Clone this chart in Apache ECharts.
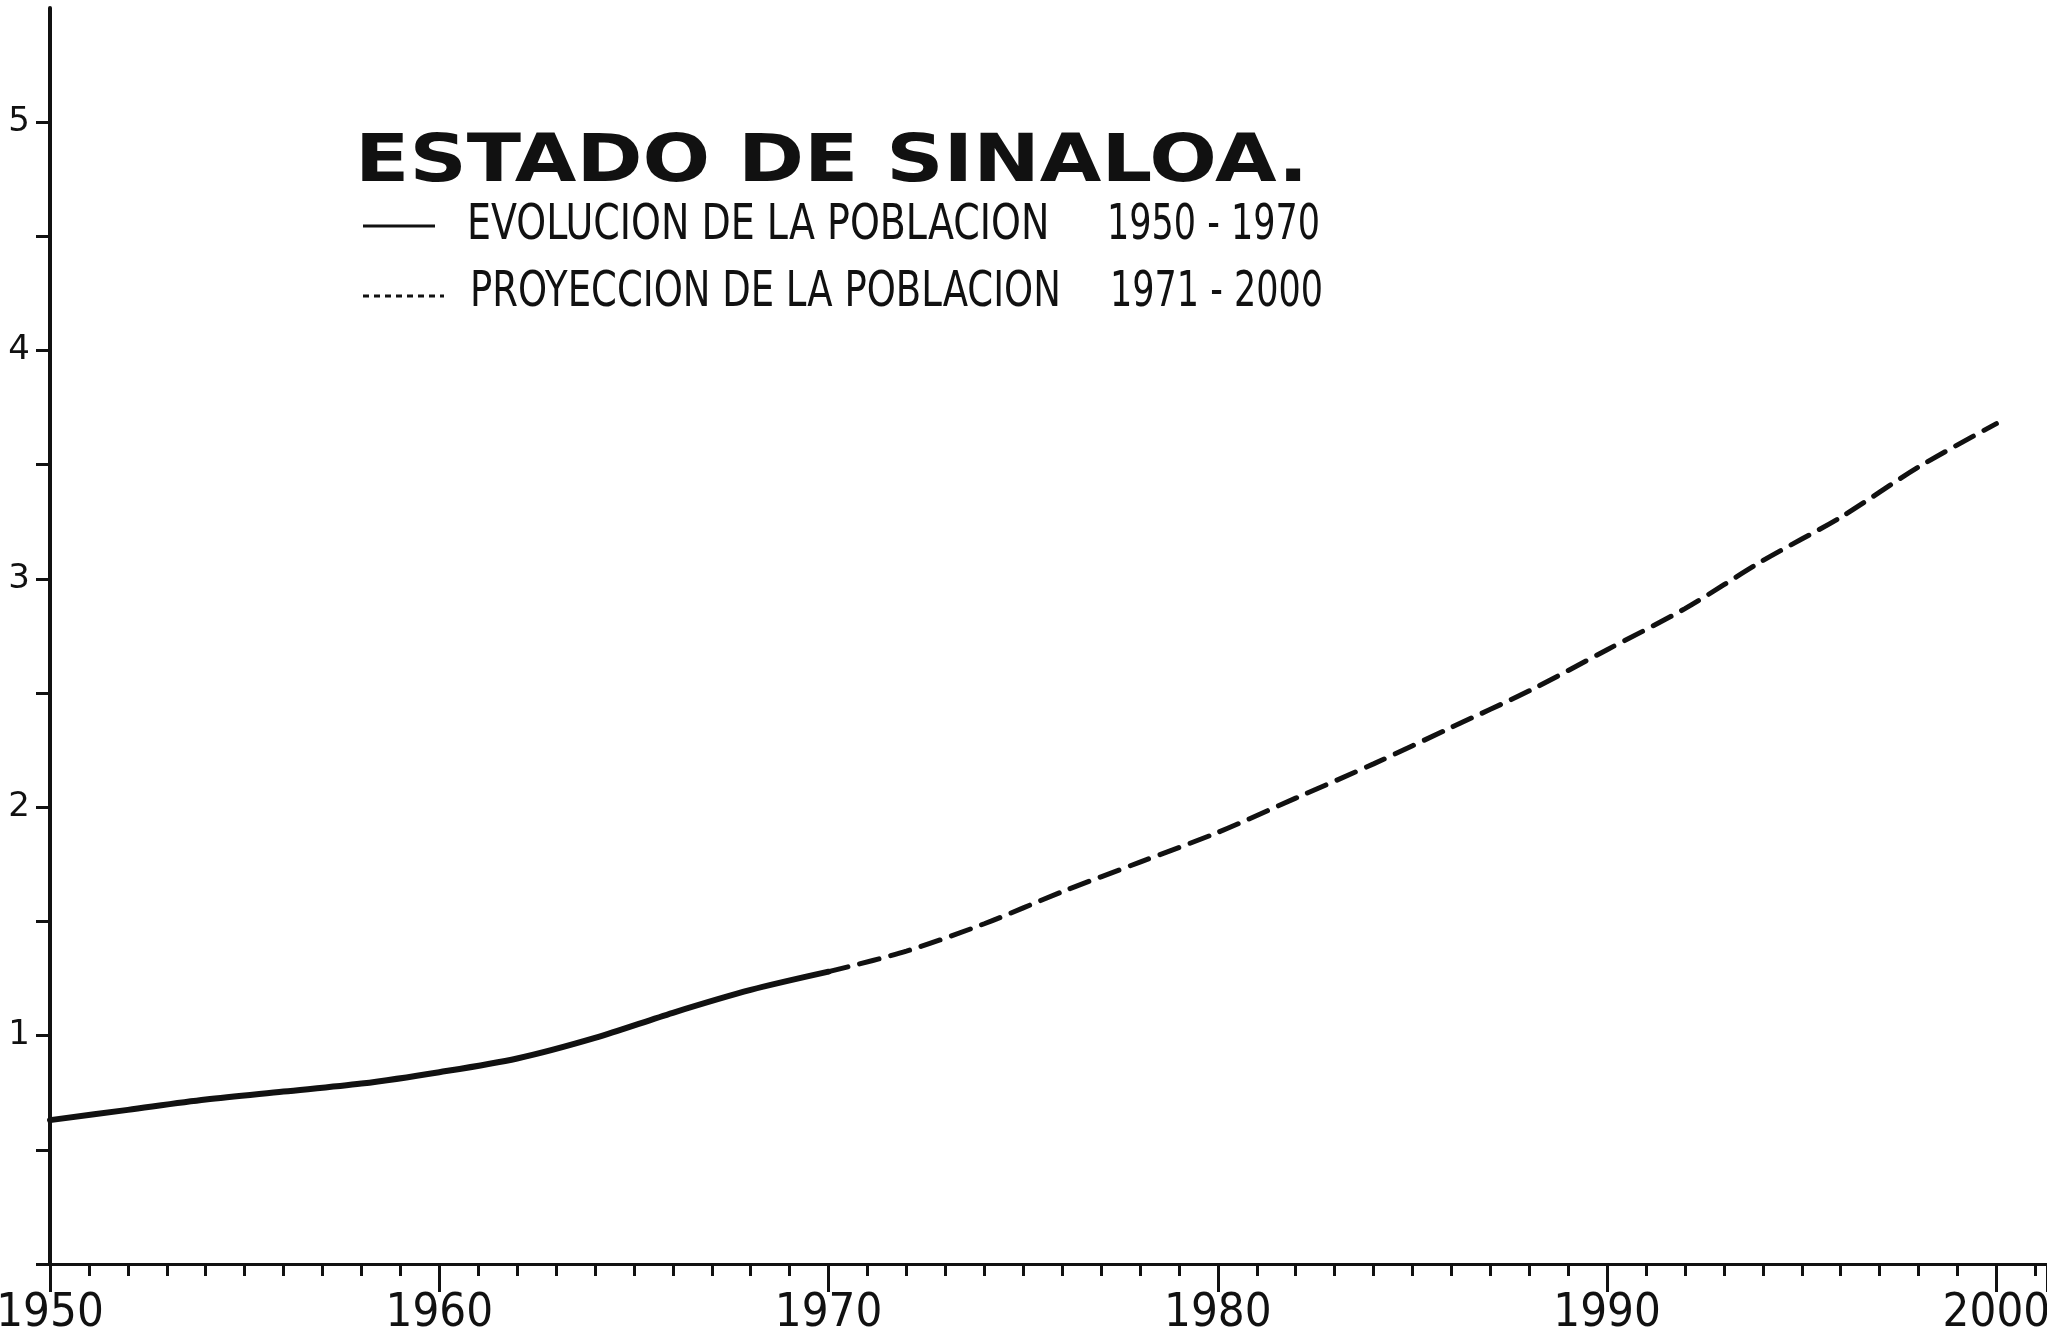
<!DOCTYPE html>
<html>
<head>
<meta charset="utf-8">
<style>
  html, body { margin: 0; padding: 0; background: #ffffff; }
  #chart { width: 2047px; height: 1334px; }
</style>
<script src="https://cdn.jsdelivr.net/npm/echarts@6/dist/echarts.min.js"></script>
</head>
<body>
<div id="chart"></div>
<script>
// Población del Estado de Sinaloa (millones de habitantes)
const obsYears = [1950, 1952, 1954, 1956, 1958, 1960, 1962, 1964, 1966, 1968, 1970];
const obsValues = [0.63, 0.675, 0.72, 0.755, 0.79, 0.84, 0.90, 0.99, 1.10, 1.20, 1.28];

const projYears = [1970, 1972, 1974, 1976, 1978, 1980, 1982, 1984, 1986, 1988, 1990, 1992, 1994, 1996, 1998, 2000];
const projValues = [1.28, 1.37, 1.49, 1.63, 1.76, 1.89, 2.04, 2.19, 2.35, 2.51, 2.69, 2.87, 3.08, 3.27, 3.49, 3.68];

const yTickLabels = [1, 2, 3, 4, 5];

const titleText = 'ESTADO DE SINALOA.';
const obsName = 'EVOLUCION DE LA POBLACION';
const obsRange = '1950 - 1970';
const projName = 'PROYECCION DE LA POBLACION';
const projRange = '1971 - 2000';

const INK = '#111111';
const narrowFont = "'Liberation Sans Narrow', 'DejaVu Sans Condensed', 'Roboto Condensed', 'DejaVu Sans', sans-serif";

const pairs = (xs, ys) => xs.map((x, i) => [x, ys[i]]);

const chart = echarts.init(document.getElementById('chart'), null, { renderer: 'canvas' });

chart.setOption({
  backgroundColor: '#ffffff',
  animation: false,
  grid: { left: 50, right: 0, top: 8, bottom: 70, containLabel: false, outerBoundsMode: 'none' },
  xAxis: {
    type: 'value',
    min: 1950,
    max: 2001.3,
    interval: 10,
    axisLine: { show: true, onZero: false, lineStyle: { color: INK, width: 3 } },
    axisTick: { show: true, inside: false, length: 28, lineStyle: { color: INK, width: 3 } },
    minorTick: { show: true, splitNumber: 10, length: 12, lineStyle: { color: INK, width: 3 } },
    splitLine: { show: false },
    minorSplitLine: { show: false },
    axisLabel: {
      show: true,
      margin: 26,
      color: INK,
      fontFamily: narrowFont,
      fontSize: 47,
      showMaxLabel: false,
      formatter: v => (Math.round(v) % 10 === 0 ? String(Math.round(v)) : '')
    }
  },
  yAxis: {
    type: 'value',
    min: 0,
    max: 5.5,
    interval: 0.5,
    axisLine: { show: true, onZero: false, lineStyle: { color: INK, width: 4 } },
    axisTick: { show: true, inside: false, length: 14, lineStyle: { color: INK, width: 3 } },
    splitLine: { show: false },
    axisLabel: {
      show: true,
      margin: 20,
      color: INK,
      fontFamily: "'DejaVu Sans', sans-serif",
      fontSize: 34,
      showMaxLabel: false,
      formatter: v => (yTickLabels.indexOf(v) >= 0 ? String(v) : '')
    }
  },
  series: [
    {
      name: obsName,
      type: 'line',
      data: pairs(obsYears, obsValues),
      smooth: 0.3,
      showSymbol: false,
      lineStyle: { color: INK, width: 6, cap: 'round' },
      z: 3
    },
    {
      name: projName,
      type: 'line',
      data: pairs(projYears, projValues),
      smooth: 0.3,
      showSymbol: false,
      lineStyle: { color: INK, width: 5, type: [20, 12], cap: 'round' },
      z: 3
    }
  ],
  graphic: [
    {
      type: 'text',
      x: 355, y: 164, scaleX: 1.225,
      style: {
        text: titleText,
        font: "bold 65px 'DejaVu Sans', sans-serif",
        fill: INK,
        verticalAlign: 'middle'
      }
    },
    {
      type: 'line',
      shape: { x1: 363, y1: 226, x2: 435, y2: 226 },
      style: { stroke: INK, lineWidth: 3 }
    },
    {
      type: 'text',
      x: 467, y: 226, scaleX: 0.76,
      style: { text: obsName, font: "50px 'DejaVu Sans', sans-serif", fill: INK, verticalAlign: 'middle' }
    },
    {
      type: 'text',
      x: 1107, y: 226, scaleX: 0.70,
      style: { text: obsRange, font: "50px 'DejaVu Sans', sans-serif", fill: INK, verticalAlign: 'middle' }
    },
    {
      type: 'line',
      shape: { x1: 363, y1: 296, x2: 444, y2: 296 },
      style: { stroke: INK, lineWidth: 3, lineDash: [6, 5] }
    },
    {
      type: 'text',
      x: 470, y: 293, scaleX: 0.74,
      style: { text: projName, font: "50px 'DejaVu Sans', sans-serif", fill: INK, verticalAlign: 'middle' }
    },
    {
      type: 'text',
      x: 1110, y: 293, scaleX: 0.70,
      style: { text: projRange, font: "50px 'DejaVu Sans', sans-serif", fill: INK, verticalAlign: 'middle' }
    }
  ]
});
</script>
</body>
</html>
